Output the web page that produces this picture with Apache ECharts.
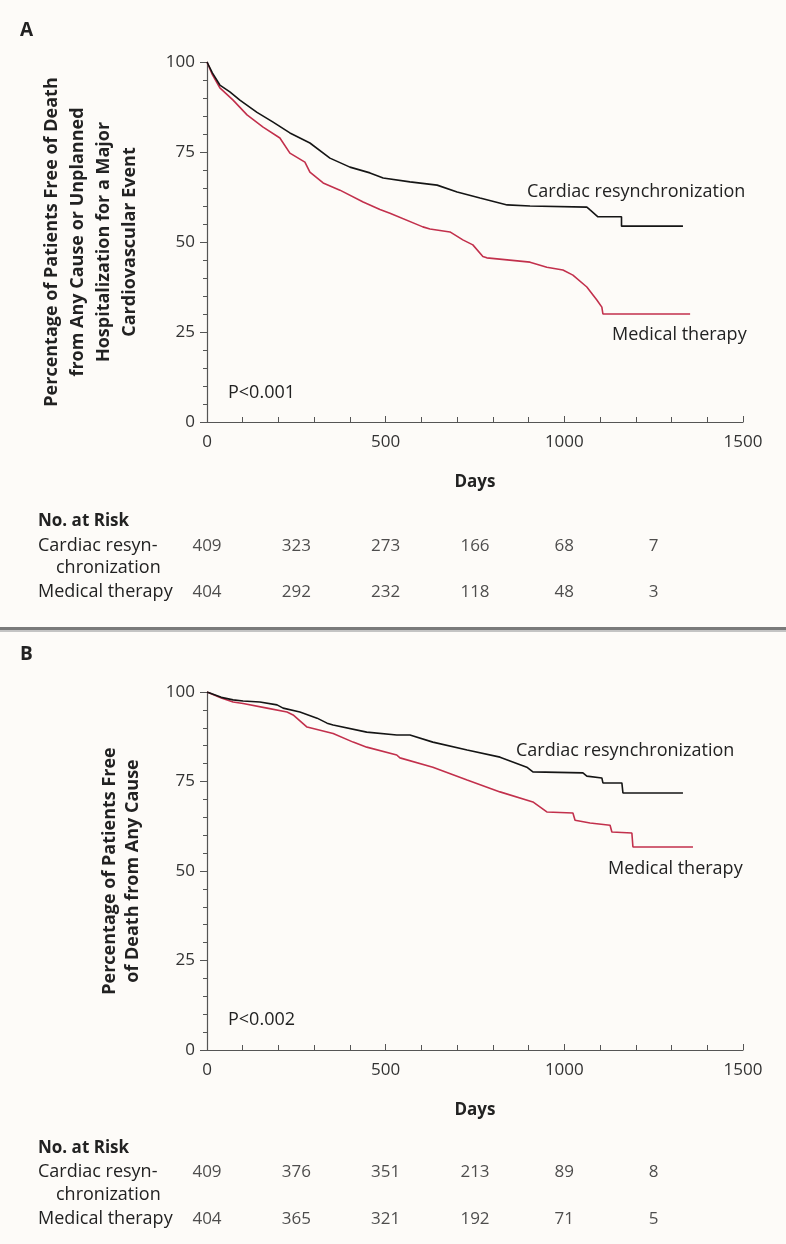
<!DOCTYPE html>
<html>
<head>
<meta charset="utf-8">
<script src="https://cdn.jsdelivr.net/npm/echarts@6/dist/echarts.min.js"></script>
<style>
html,body{margin:0;padding:0;background:#fdfbf8}
#chart{width:786px;height:1244px}
</style>
</head>
<body>
<div id="chart"></div>
<script>
// Panel A: death or hospitalization for a major CV event (days, % free)
var crtA = [[0,100],[15,97],[36,93.6],[64,91.7],[92,89.4],[140,86],[185,83.3],[232,80.3],[288,77.5],[344,73.3],[400,70.8],[456,69.2],[493,67.8],[568,66.7],[644,65.8],[700,63.9],[764,62.2],[840,60.3],[904,60],[1063,59.7],[1072,58.9],[1094,57],[1160,57],[1160,54.4],[1332,54.4]];
var medA = [[0,100],[15,96.5],[36,92.8],[73,89.4],[112,85.3],[157,81.9],[204,78.9],[232,74.7],[274,72.2],[288,69.4],[325,66.4],[372,64.4],[437,61.1],[484,59],[512,58],[604,54.2],[624,53.6],[680,52.8],[716,50.6],[744,49.2],[772,46],[783,45.6],[904,44.4],[951,43],[996,42.2],[1024,40.8],[1063,37.5],[1091,33.9],[1105,31.9],[1108,30],[1352,30]];
// Panel B: death from any cause
var crtB = [[0,100],[40,98.5],[73,97.8],[101,97.5],[148,97.2],[196,96.4],[213,95.5],[260,94.4],[308,92.7],[336,91.3],[353,90.8],[447,88.8],[531,88],[568,88],[632,86],[728,83.8],[820,81.8],[895,79],[912,77.7],[1052,77.4],[1063,76.5],[1105,76],[1108,74.6],[1161,74.6],[1164,71.8],[1332,71.8]];
var medB = [[0,100],[40,98.3],[73,97.2],[101,96.8],[168,95.5],[224,94.4],[241,93.6],[280,90.2],[353,88.4],[409,86],[447,84.6],[531,82.4],[540,81.6],[632,79],[728,75.4],[820,72.1],[912,69.3],[951,66.5],[1024,66.2],[1030,64.2],[1072,63.4],[1128,62.8],[1133,60.9],[1189,60.6],[1192,56.7],[1360,56.7]];

// numbers at risk
var riskDays = [0, 250, 500, 750, 1000, 1250];
var riskCrtA = [409, 323, 273, 166, 68, 7];
var riskMedA = [404, 292, 232, 118, 48, 3];
var riskCrtB = [409, 376, 351, 213, 89, 8];
var riskMedB = [404, 365, 321, 192, 71, 5];

var FONT = '"Open Sans", "Liberation Sans", sans-serif';
var TXT = '#222';
var AX = '#555';
var RED = '#c2304c';

function riskRow(days, vals, row) {
  return days.map(function (d, i) { return [d, row, vals[i]]; });
}

function xAx(grid, shown) {
  if (!shown) {
    return {gridIndex: grid, type: 'value', min: 0, max: 1500, show: false};
  }
  return {
    gridIndex: grid, type: 'value', min: 0, max: 1500, interval: 500,
    name: 'Days', nameLocation: 'middle', nameGap: 52,
    nameTextStyle: {color: TXT, fontSize: 17, fontWeight: 'bold', fontFamily: FONT},
    axisLine: {lineStyle: {color: AX, width: 1.2}},
    axisTick: {inside: true, length: 6, lineStyle: {color: AX}},
    minorTick: {show: true, splitNumber: 5, length: 5, lineStyle: {color: AX}},
    axisLabel: {color: '#333', fontSize: 17, margin: 12, fontFamily: FONT,
      formatter: function (v) { return String(v); }},
    splitLine: {show: false}
  };
}

function yAx(grid) {
  return {
    gridIndex: grid, type: 'value', min: 0, max: 100, interval: 25,
    axisLine: {show: true, lineStyle: {color: AX, width: 1.2}},
    axisTick: {show: true, length: 7, lineStyle: {color: AX}},
    minorTick: {show: true, splitNumber: 5, length: 4, lineStyle: {color: AX}},
    axisLabel: {color: '#333', fontSize: 17, margin: 12, fontFamily: FONT},
    splitLine: {show: false}
  };
}

function curve(name, data, color, idx) {
  return {
    name: name, type: 'line', xAxisIndex: idx, yAxisIndex: idx, data: data,
    showSymbol: false, symbol: 'none', lineStyle: {color: color, width: 1.6}, z: color === RED ? 2 : 3
  };
}

function riskSeries(data, idx) {
  return {
    type: 'scatter', xAxisIndex: idx, yAxisIndex: idx, data: data,
    symbolSize: 1, itemStyle: {color: 'transparent'},
    label: {show: true, position: 'inside', color: TXT, fontSize: 17, fontFamily: FONT,
      textBorderWidth: 0, formatter: function (p) { return p.value[2]; }}
  };
}

function txt(x, y, s, opt) {
  opt = opt || {};
  return {
    type: 'text', x: x, y: y, rotation: opt.rot || 0,
    style: {
      text: s, fill: TXT, font: (opt.bold ? 'bold ' : '') + (opt.size || 15) + 'px ' + FONT,
      textAlign: opt.align || 'left', textVerticalAlign: 'middle', verticalAlign: 'middle',
      lineHeight: opt.lh || 20
    }
  };
}

var chart = echarts.init(document.getElementById('chart'));
chart.setOption({
  animation: false,
  backgroundColor: '#fdfbf8',
  textStyle: {fontFamily: FONT},
  grid: [
    {left: 207, top: 62, width: 536, height: 360},
    {left: 207, top: 692, width: 536, height: 358},
    {left: 207, top: 546, width: 536, height: 46},
    {left: 207, top: 1172, width: 536, height: 47}
  ],
  xAxis: [xAx(0, true), xAx(1, true), xAx(2, false), xAx(3, false)],
  yAxis: [yAx(0), yAx(1),
    {gridIndex: 2, type: 'value', min: 0, max: 1, show: false},
    {gridIndex: 3, type: 'value', min: 0, max: 1, show: false}],
  series: [
    curve('Medical therapy', medA, RED, 0),
    curve('Cardiac resynchronization', crtA, '#151515', 0),
    curve('Medical therapy', medB, RED, 1),
    curve('Cardiac resynchronization', crtB, '#151515', 1),
    riskSeries(riskRow(riskDays, riskCrtA, 1), 2),
    riskSeries(riskRow(riskDays, riskMedA, 0), 2),
    riskSeries(riskRow(riskDays, riskCrtB, 1), 3),
    riskSeries(riskRow(riskDays, riskMedB, 0), 3)
  ],
  graphic: [
    {type: 'rect', shape: {x: 0, y: 627, width: 786, height: 3}, style: {fill: '#7a7a7a'}},
    {type: 'rect', shape: {x: 0, y: 630, width: 786, height: 2}, style: {fill: '#c4c4c4'}},
    txt(20, 31, 'A', {bold: true, size: 19}),
    txt(20, 655, 'B', {bold: true, size: 19}),
    txt(91, 242, 'Percentage of Patients Free of Death\nfrom Any Cause or Unplanned\nHospitalization for a Major\nCardiovascular Event', {bold: true, size: 18, align: 'center', rot: Math.PI / 2, lh: 26}),
    txt(121, 871, 'Percentage of Patients Free\nof Death from Any Cause', {bold: true, size: 18, align: 'center', rot: Math.PI / 2, lh: 23}),
    txt(527, 192, 'Cardiac resynchronization', {size: 18}),
    txt(612, 335, 'Medical therapy', {size: 18}),
    txt(228, 393, 'P<0.001', {size: 18}),
    txt(516, 751, 'Cardiac resynchronization', {size: 18}),
    txt(608, 869, 'Medical therapy', {size: 18}),
    txt(228, 1020, 'P<0.002', {size: 18}),
    txt(38, 521, 'No. at Risk', {bold: true, size: 17}),
    txt(38, 546, 'Cardiac resyn-', {size: 18}),
    txt(56, 568, 'chronization', {size: 18}),
    txt(38, 592, 'Medical therapy', {size: 18}),
    txt(38, 1148, 'No. at Risk', {bold: true, size: 17}),
    txt(38, 1172, 'Cardiac resyn-', {size: 18}),
    txt(56, 1195, 'chronization', {size: 18}),
    txt(38, 1219, 'Medical therapy', {size: 18})
  ]
});
window.onresize = function () { chart.resize(); };
</script>
</body>
</html>
